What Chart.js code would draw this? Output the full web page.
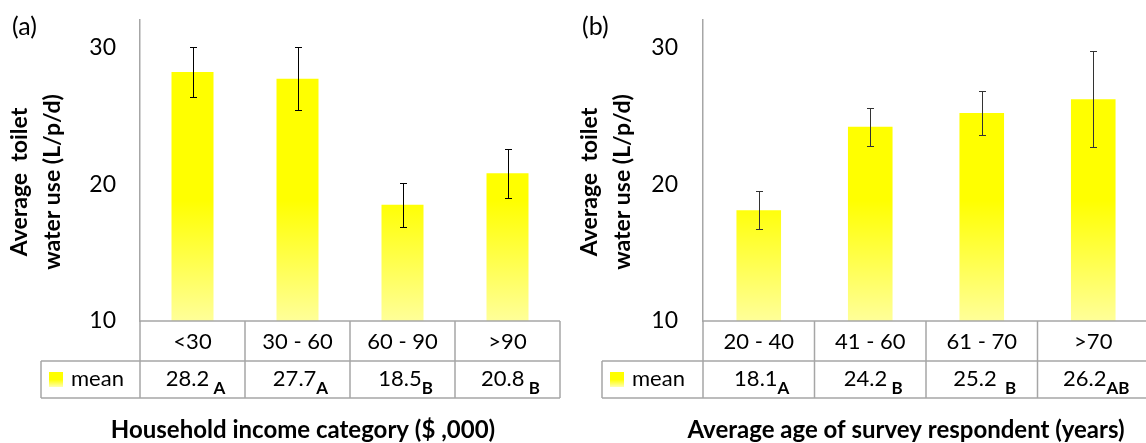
<!DOCTYPE html>
<html>
<head>
<meta charset="utf-8">
<script src="https://cdn.jsdelivr.net/npm/chart.js@4.4.0/dist/chart.umd.min.js"></script>
<style>
    html, body { margin: 0; padding: 0; background: #fff; overflow: hidden; width: 1146px; height: 443px; }
    .painel { position: absolute; top: 0; height: 443px; }
    #painelA { left: 0; width: 573px; }
    #painelB { left: 573px; width: 600px; }
</style>
</head>
<body>
<div id="painelA" class="painel"><canvas id="graficoA" width="573" height="443"></canvas></div>
<div id="painelB" class="painel"><canvas id="graficoB" width="600" height="443"></canvas></div>
<script>
// (a) renda do domicílio
const categoriasRenda = ['<30', '30 - 60', '60 - 90', '>90'];
const mediasRenda = [28.2, 27.7, 18.5, 20.8];
const errosRenda = [1.8, 2.3, 1.6, 1.8];
const letrasRenda = [' A', 'A', 'B', ' B'];

// (b) idade do respondente
const categoriasIdade = ['20 - 40', '41 - 60', '61 - 70', '>70'];
const mediasIdade = [18.1, 24.2, 25.2, 26.2];
const errosIdade = [1.4, 1.4, 1.6, 3.5];
const letrasIdade = ['A', ' B', '  B', 'AB'];

const ticksY = [10, 20, 30];
const tituloY = ['Average  toilet', 'water use (L/p/d)'];
const rotuloSerie = 'mean';

const FONTE = 'Lato, "Open Sans", sans-serif';
const COR_LINHA = '#a6a6a6';

function gradienteBarra(context) {
    const chart = context.chart;
    const area = chart.chartArea;
    if (!area) return '#ffff00';
    const g = chart.ctx.createLinearGradient(0, area.bottom, 0, area.top);
    g.addColorStop(0, '#ffff99');
    g.addColorStop(0.4, '#ffff00');
    g.addColorStop(1, '#ffff00');
    return g;
}

// Desenha barras de erro, tabela de dados e títulos
function pluginTabela(cfg) {
    return {
        id: 'tabela',
        afterDatasetsDraw(chart) {
            const ctx = chart.ctx;
            const y = chart.scales.y;
            const meta = chart.getDatasetMeta(0);
            ctx.save();
            ctx.strokeStyle = cfg.corErro;
            ctx.lineWidth = 1;
            meta.data.forEach((bar, i) => {
                const yTop = Math.round(y.getPixelForValue(cfg.medias[i] + cfg.erros[i])) + 0.5;
                const yBot = Math.round(y.getPixelForValue(cfg.medias[i] - cfg.erros[i])) + 0.5;
                const xc = Math.round(bar.x) + 0.5;
                ctx.beginPath();
                ctx.moveTo(xc, yTop); ctx.lineTo(xc, yBot);
                ctx.moveTo(xc - 3.5, yTop); ctx.lineTo(xc + 3.5, yTop);
                ctx.moveTo(xc - 3.5, yBot); ctx.lineTo(xc + 3.5, yBot);
                ctx.stroke();
            });
            ctx.restore();
        },
        afterDraw(chart) {
            const ctx = chart.ctx;
            const area = chart.chartArea;
            const x = chart.scales.x;
            const n = cfg.categorias.length;
            const passo = (area.right - area.left) / n;
            const base = area.bottom;
            const linha1 = base + 40;
            const linha2 = base + 77;

            ctx.save();
            // grade da tabela
            ctx.strokeStyle = COR_LINHA;
            ctx.lineWidth = 1.5;
            ctx.beginPath();
            ctx.moveTo(area.left, base); ctx.lineTo(area.right, base);
            ctx.moveTo(cfg.tabelaEsq, linha1); ctx.lineTo(area.right, linha1);
            ctx.moveTo(cfg.tabelaEsq, linha2); ctx.lineTo(area.right, linha2);
            ctx.moveTo(cfg.tabelaEsq, linha1); ctx.lineTo(cfg.tabelaEsq, linha2);
            for (let i = 0; i <= n; i++) {
                const xv = area.left + passo * i;
                ctx.moveTo(xv, base); ctx.lineTo(xv, linha2);
            }
            ctx.stroke();

            // categorias
            ctx.fillStyle = '#000';
            ctx.textAlign = 'center';
            ctx.textBaseline = 'middle';
            ctx.font = '22px ' + FONTE;
            cfg.categorias.forEach((c, i) => {
                ctx.fillText(c, x.getPixelForValue(i), base + 21);
            });

            // legenda da linha "mean"
            const gSw = ctx.createLinearGradient(0, 372, 0, 387);
            gSw.addColorStop(0, '#ffff00');
            gSw.addColorStop(0.5, '#ffff00');
            gSw.addColorStop(1, '#ffffb0');
            ctx.fillStyle = gSw;
            ctx.fillRect(cfg.tabelaEsq + 8, 372, 14, 15);
            ctx.fillStyle = '#000';
            ctx.textAlign = 'left';
            ctx.fillText(rotuloSerie, cfg.tabelaEsq + 30, 379);

            // médias com letras subscritas
            cfg.medias.forEach((m, i) => {
                const txt = m.toFixed(1);
                ctx.font = '22px ' + FONTE;
                const w1 = ctx.measureText(txt).width;
                ctx.font = 'bold 17px ' + FONTE;
                const w2 = ctx.measureText(cfg.letras[i]).width;
                const x0 = x.getPixelForValue(i) - (w1 + w2) / 2 + 3;
                ctx.font = '22px ' + FONTE;
                ctx.fillText(txt, x0, 379);
                ctx.font = 'bold 17px ' + FONTE;
                ctx.fillText(cfg.letras[i], x0 + w1, 389);
            });

            // título do eixo y (duas linhas, girado)
            ctx.font = 'bold 23px ' + FONTE;
            ctx.textAlign = 'center';
            tituloY.forEach((t, k) => {
                ctx.save();
                ctx.translate(cfg.tituloYx[k], 182);
                ctx.rotate(-Math.PI / 2);
                ctx.fillText(t, 0, 0);
                ctx.restore();
            });

            // título do eixo x
            ctx.font = 'bold 24px ' + FONTE;
            ctx.fillText(cfg.tituloX, cfg.tituloXcentro, 430);

            // rótulo do painel
            ctx.font = '25px ' + FONTE;
            ctx.textAlign = 'left';
            ctx.fillText(cfg.painel, cfg.painelX, 27);
            ctx.restore();
        }
    };
}

function criarGrafico(cfg) {
    const ctx = document.getElementById(cfg.canvas).getContext('2d');
    return new Chart(ctx, {
        type: 'bar',
        data: {
            labels: cfg.categorias,
            datasets: [{
                label: rotuloSerie,
                data: cfg.medias,
                backgroundColor: gradienteBarra,
                borderWidth: 0,
                barPercentage: 0.4,
                categoryPercentage: 1
            }]
        },
        options: {
            responsive: false,
            animation: false,
            layout: { padding: { left: 0, top: 20, right: cfg.margemDir, bottom: 122 } },
            plugins: {
                legend: { display: false },
                tooltip: { enabled: false }
            },
            scales: {
                x: { display: false, offset: true },
                y: {
                    min: 10,
                    max: 32,
                    afterBuildTicks: s => { s.ticks = ticksY.map(v => ({ value: v })); },
                    afterFit: s => {
                        s.width = cfg.eixoEsq;
                        s.paddingTop = 0;
                        s.paddingBottom = 0;
                    },
                    grid: { display: false, drawTicks: false },
                    border: { display: true, color: COR_LINHA, width: 1.5 },
                    ticks: {
                        padding: cfg.padTicks,
                        color: '#000',
                        font: { family: FONTE, size: 23 }
                    }
                }
            }
        },
        plugins: [pluginTabela(cfg)]
    });
}

document.addEventListener('DOMContentLoaded', () => {
    criarGrafico({
        canvas: 'graficoA', painel: '(a)', painelX: 12,
        categorias: categoriasRenda, medias: mediasRenda, erros: errosRenda, letras: letrasRenda,
        eixoEsq: 140, margemDir: 13, padTicks: 24, tabelaEsq: 41,
        tituloYx: [20, 53], tituloX: 'Household income category ($ ,000)', tituloXcentro: 303,
        corErro: '#000'
    });
    criarGrafico({
        canvas: 'graficoB', painel: '(b)', painelX: 9,
        categorias: categoriasIdade, medias: mediasIdade, erros: errosIdade, letras: letrasIdade,
        eixoEsq: 130, margemDir: 24, padTicks: 25, tabelaEsq: 29,
        tituloYx: [17, 50], tituloX: 'Average age of survey respondent (years)', tituloXcentro: 333,
        corErro: '#333'
    });
});
</script>
</body>
</html>
